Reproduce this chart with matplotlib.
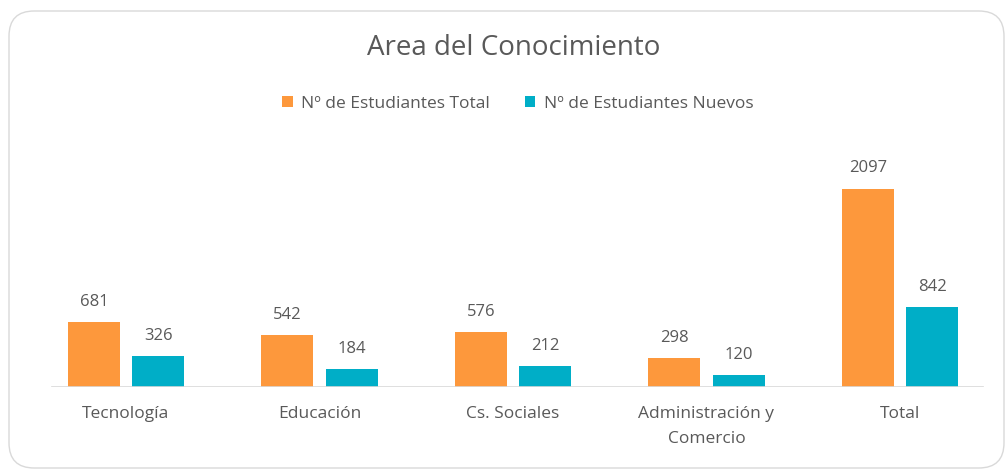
import matplotlib
matplotlib.use("Agg")
import matplotlib.pyplot as plt
from matplotlib.patches import FancyBboxPatch
import numpy as np

categories = ["Tecnología", "Educación", "Cs. Sociales", "Administración y\nComercio", "Total"]
total = [681, 542, 576, 298, 2097]
nuevos = [326, 184, 212, 120, 842]
series_names = ["Nº de Estudiantes Total", "Nº de Estudiantes Nuevos"]
title = "Area del Conocimiento"

c_orange = "#FD983C"
c_teal = "#00AEC7"
txt = "#595959"

plt.rcParams['font.family'] = ['Open Sans', 'DejaVu Sans']

W, H = 1007, 472
fig = plt.figure(figsize=(W / 100, H / 100), dpi=100)

# rounded chart border
box = FancyBboxPatch((9 / W, 4 / H), (995 / W), (457 / H),
                     boxstyle="round,pad=0,rounding_size=0.025",
                     transform=fig.transFigure, facecolor="white",
                     edgecolor="#D9D9D9", linewidth=1.0, mutation_aspect=W / H,
                     zorder=-10)
fig.patches.append(box)

left = 29.25 / W
width = 967.5 / W
bottom = 85.5 / H
ppu = 198 / 2097
ymax = 2400
height = ymax * ppu / H
ax = fig.add_axes([left, bottom, width, height])
ax.set_facecolor("none")
ax.set_zorder(5)

x = np.arange(len(categories))
off = 0.166
bw = 0.269
b1 = ax.bar(x - off, total, bw, color=c_orange, label=series_names[0])
b2 = ax.bar(x + off, nuevos, bw, color=c_teal, label=series_names[1])

for bars, vals in ((b1, total), (b2, nuevos)):
    for r, v in zip(bars, vals):
        ax.annotate(str(v), (r.get_x() + r.get_width() / 2, v), xytext=(0, 14.5),
                    textcoords="offset points", ha="center", va="center",
                    fontsize=12, color=txt)

ax.set_xlim(-0.5, len(categories) - 0.5)
ax.set_ylim(0, ymax)
for s in ax.spines.values():
    s.set_visible(False)
ax.set_yticks([])
ax.set_xticks(x)
ax.set_xticklabels(categories, fontsize=12.5, color=txt, linespacing=1.75)
ax.tick_params(axis="x", length=0, pad=14)

# baseline
x0 = (52 - 29.25) / 967.5
x1 = (983 - 29.25) / 967.5
ax.axhline(0, xmin=x0, xmax=x1, color="#D9D9D9", linewidth=1.2)

fig.text(514 / W, 1 - 48 / H, title, ha="center", va="center", fontsize=20, color=txt)

leg = fig.legend(handles=[b1, b2], labels=series_names, loc="center",
                 bbox_to_anchor=(518 / W, 1 - 104 / H), ncol=2, frameon=False,
                 fontsize=12.5, labelcolor=txt, handlelength=0.6, handleheight=0.6,
                 handletextpad=0.5, columnspacing=2.0)

fig.savefig("out.png", dpi=100)
